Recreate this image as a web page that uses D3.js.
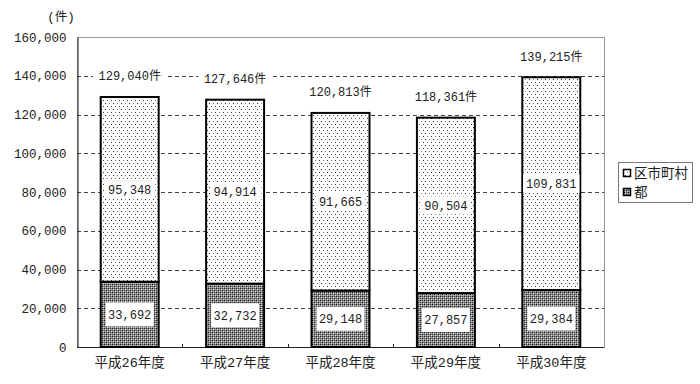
<!DOCTYPE html>
<html><head><meta charset="utf-8">
<script src="https://cdn.jsdelivr.net/npm/d3@7"></script>
<style>
body{margin:0;background:#fff;}
svg text{font-family:"Liberation Mono","Noto Sans CJK JP",monospace;}
</style></head>
<body><svg id="c" width="700" height="384"></svg>
<script>
const categories = ["平成26年度","平成27年度","平成28年度","平成29年度","平成30年度"];
const cityValues = [95348, 94914, 91665, 90504, 109831];
const metroValues = [33692, 32732, 29148, 27857, 29384];
const totals = [129040, 127646, 120813, 118361, 139215];
const yTicks = [0,20000,40000,60000,80000,100000,120000,140000,160000];
const legendLabels = ["区市町村","都"];

const svg = d3.select("#c");
const m = {l:77, r:604, t:37, b:347};
const x = d3.scaleBand().domain(categories).range([m.l, m.r]).paddingInner(0.45).paddingOuter(0.225);
const y = d3.scaleLinear().domain([0,160000]).range([m.b, m.t]);
const fmt = d3.format(",");

const defs = svg.append("defs");
const pd = defs.append("pattern").attr("id","dots").attr("patternUnits","userSpaceOnUse").attr("width",8).attr("height",6);
pd.append("rect").attr("width",8).attr("height",6).attr("fill","#fff");
[[1,1,"#222"],[5,1,"#888"],[3,4,"#777"],[7,4,"#333"]].forEach(([a,b,c])=>pd.append("rect").attr("x",a).attr("y",b).attr("width",1).attr("height",1).attr("fill",c));
const pk = defs.append("pattern").attr("id","dark").attr("patternUnits","userSpaceOnUse").attr("width",4).attr("height",4);
pk.append("rect").attr("width",4).attr("height",4).attr("fill","#8a8a8a");
[[0,0,"#111"],[2,2,"#1a1a1a"],[1,1,"#e0e0e0"],[3,3,"#d0d0d0"],[2,0,"#444"],[0,2,"#555"],[1,3,"#bbb"],[3,1,"#aaa"]].forEach(([a,b,c])=>pk.append("rect").attr("x",a).attr("y",b).attr("width",1).attr("height",1).attr("fill",c));

svg.append("rect").attr("x",m.l).attr("y",m.t+0.5).attr("width",m.r-m.l).attr("height",m.b-m.t).attr("fill","none").attr("stroke","#999").attr("stroke-width",1).attr("shape-rendering","crispEdges");

svg.append("g").selectAll("line").data(yTicks.filter(d=>d>0 && d<160000)).join("line")
  .attr("x1",m.l).attr("x2",m.r).attr("y1",d=>Math.round(y(d))+0.5).attr("y2",d=>Math.round(y(d))+0.5)
  .attr("stroke","#444").attr("stroke-dasharray","4,3").attr("stroke-width",1);

const ya = svg.append("g").attr("transform",`translate(${m.l+0.5},0)`).call(d3.axisLeft(y).tickValues(yTicks).tickFormat(fmt).tickSize(0).tickPadding(11));
ya.select(".domain").attr("stroke","#222");
ya.selectAll("text").attr("font-size",12.5).attr("fill","#222");
svg.append("text").attr("x",61).attr("y",21).attr("text-anchor","middle").attr("font-size",12.5).attr("fill","#222").text("(件)");

svg.append("line").attr("x1",m.l).attr("x2",m.r).attr("y1",m.b+0.5).attr("y2",m.b+0.5).attr("stroke","#222");
const step = x.step();
svg.append("g").selectAll("line").data(categories.slice(1)).join("line")
  .attr("x1",d=>Math.round(x(d)-x.paddingInner()*step/2)+0.5).attr("x2",d=>Math.round(x(d)-x.paddingInner()*step/2)+0.5)
  .attr("y1",m.b-3).attr("y2",m.b).attr("stroke","#222");
svg.append("g").selectAll("text").data(categories).join("text")
  .attr("x",d=>x(d)+x.bandwidth()/2).attr("y",367).attr("text-anchor","middle").attr("font-size",13.5).attr("fill","#222").text(d=>d);

const g = svg.append("g");
categories.forEach((c,i)=>{
  const x0 = x(c), w = x.bandwidth();
  g.append("rect").attr("x",x0).attr("y",y(metroValues[i])).attr("width",w).attr("height",y(0)-y(metroValues[i]))
    .attr("fill","url(#dark)").attr("stroke","#000").attr("stroke-width",2);
  g.append("rect").attr("x",x0).attr("y",y(metroValues[i]+cityValues[i])).attr("width",w).attr("height",y(metroValues[i])-y(metroValues[i]+cityValues[i]))
    .attr("fill","url(#dots)").attr("stroke","#000").attr("stroke-width",2);
});

function boxLabel(cx, cy, txt, bw, bh, fs){
  g.append("rect").attr("x",cx-bw/2).attr("y",cy-bh/2).attr("width",bw).attr("height",bh).attr("fill","#fff");
  g.append("text").attr("x",cx).attr("y",cy).attr("dy","0.36em").attr("text-anchor","middle").attr("font-size",fs).attr("fill","#222").text(txt);
}
categories.forEach((c,i)=>{
  const cx = x(c)+x.bandwidth()/2;
  boxLabel(cx, (y(metroValues[i])+y(0))/2, fmt(metroValues[i]), 48, 24, 12);
  boxLabel(cx, (y(metroValues[i])+y(metroValues[i]+cityValues[i]))/2, fmt(cityValues[i]), fmt(cityValues[i]).length*7.2+6, 18, 12);
  const ty = y(totals[i]) - 21;
  const tw = (fmt(totals[i]).length*7.2+13);
  g.append("rect").attr("x",cx-tw/2-5).attr("y",ty-9).attr("width",tw+10).attr("height",18).attr("fill","#fff");
  g.append("text").attr("x",cx).attr("y",ty).attr("dy","0.36em").attr("text-anchor","middle").attr("font-size",12).attr("fill","#222").text(fmt(totals[i])+"件");
});

const lg = svg.append("g");
lg.append("rect").attr("x",618.5).attr("y",162.5).attr("width",74).attr("height",40).attr("fill","#fff").attr("stroke","#777");
const fills = ["url(#dots)","url(#dark)"];
legendLabels.forEach((t,i)=>{
  const yy = 173 + i*19;
  lg.append("rect").attr("x",623.5).attr("y",yy-3.5).attr("width",7).attr("height",7).attr("fill",fills[i]).attr("stroke","#000").attr("stroke-width",1.5);
  lg.append("text").attr("x",634).attr("y",yy).attr("dy","0.36em").attr("font-size",13.5).attr("fill","#222").text(t);
});
</script></body></html>
